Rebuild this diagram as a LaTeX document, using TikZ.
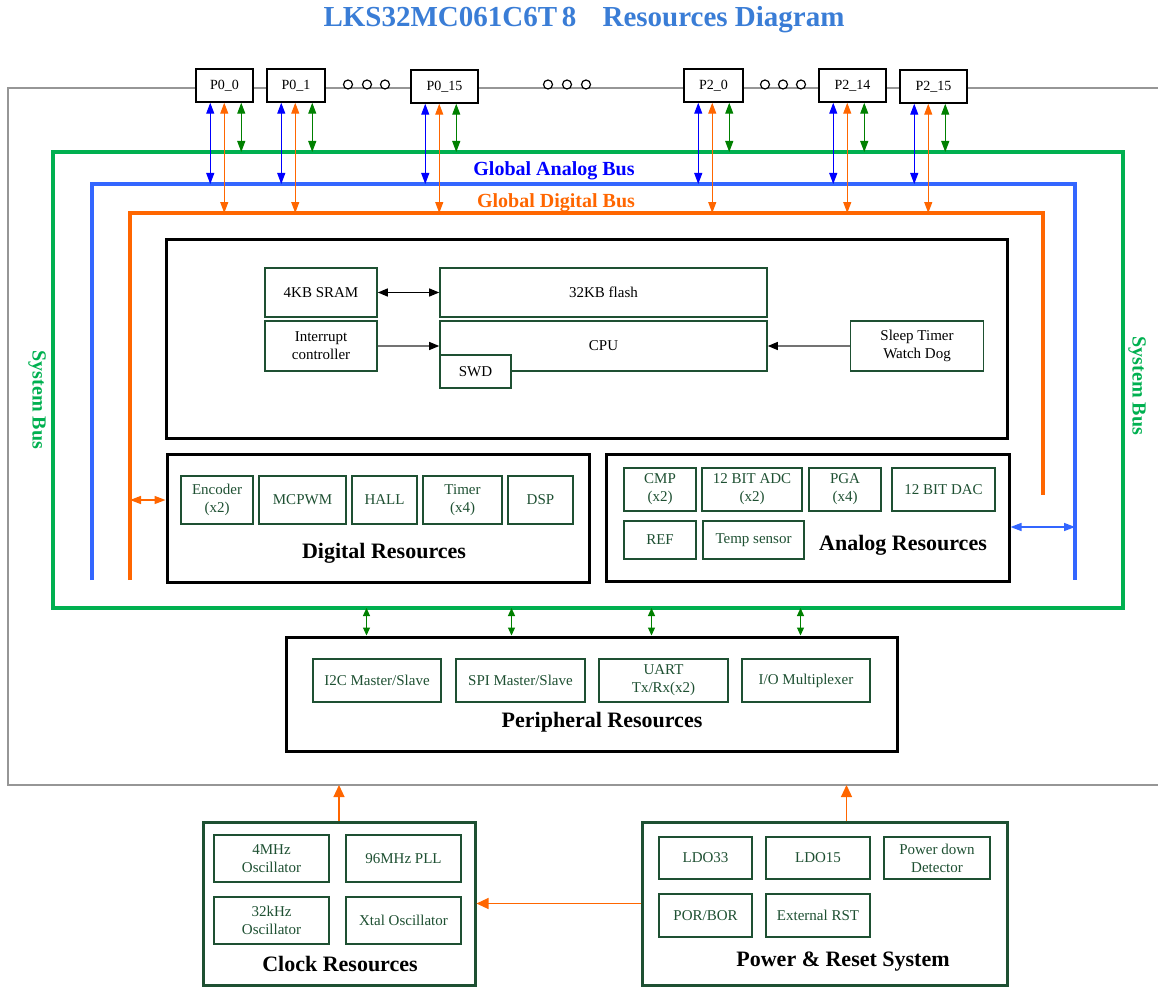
\documentclass[tikz,border=0pt]{standalone}
\usepackage{fontspec}
\setmainfont{Liberation Serif}
\usetikzlibrary{arrows.meta,calc}

\definecolor{busgreen}{RGB}{0,176,80}
\definecolor{busblue}{RGB}{51,102,255}
\definecolor{busorange}{RGB}{255,102,0}
\definecolor{pinblue}{RGB}{0,0,255}
\definecolor{pingreen}{RGB}{0,128,0}
\definecolor{titleblue}{RGB}{58,125,214}
\definecolor{boxgreen}{RGB}{30,80,50}
\definecolor{framegray}{RGB}{150,150,150}

\newcommand{\boxfont}{\fontsize{15}{18}\selectfont}
\newcommand{\pinfont}{\fontsize{14}{16}\selectfont}
\newcommand{\seclabfont}{\fontsize{22}{26}\selectfont\bfseries}
\newcommand{\busfont}{\fontsize{20}{24}\selectfont\bfseries}

\tikzset{
	pinbox/.style={draw, line width=1.5pt, fill=white, minimum height=33pt, font=\pinfont},
	ibox/.style={draw=boxgreen, line width=1.6pt, fill=white, align=center, text=boxgreen, font=\boxfont},
	cbox/.style={ibox, text=black},
	secbox/.style={draw, line width=3pt},
	grpbox/.style={draw=boxgreen, line width=3pt},
	seclabel/.style={font=\seclabfont},
	pinarr/.style={line width=1.2pt, {Triangle[width=8pt,length=11pt]}-{Triangle[width=8pt,length=11pt]}},
	perarr/.style={pingreen, line width=1.2pt, {Triangle[width=7pt,length=8pt]}-{Triangle[width=7pt,length=8pt]}},
	blkarr/.style={line width=1.2pt, {Triangle[width=8pt,length=10pt]}-{Triangle[width=8pt,length=10pt]}},
	grayarr/.style={draw=black!55, line width=1.2pt, -{Triangle[width=8pt,length=10pt,color=black]}},
	busarr/.style={line width=1.5pt, {Triangle[width=8pt,length=11pt]}-{Triangle[width=8pt,length=11pt]}},
	uparr/.style={busorange, line width=1.2pt, -{Triangle[width=11pt,length=12pt]}}
}

\begin{document}
\begin{tikzpicture}[x=1pt,y=-1pt]
	\useasboundingbox (0,0) rectangle (1158,987);
	
	%%%%% TITLE %%%%%
	\node[font=\fontsize{29}{32}\selectfont\bfseries, text=titleblue] (title) at (584,20) {LKS32MC061C6T\,8\hspace{0.9em}Resources Diagram};
	
	%%%%% FRAME AND BUSES %%%%%
	\draw[framegray, line width=1.5pt] (1158,88) -- (8,88) -- (8,785) -- (1158,785);
	\coordinate (fbot) at (0,785);
	\coordinate (gbus) at (0,152);
	\coordinate (abus) at (0,184);
	\coordinate (dbus) at (0,213);
	\coordinate (sbot) at (0,608);
	\coordinate (dleft) at (130,0);
	\coordinate (aright) at (1075,0);
	
	\draw[busgreen, line width=3.5pt] (53,152) rectangle (1123,608);
	\draw[busblue, line width=3.5pt] (92,580) -- (92,184) -- (1075,184) -- (1075,580);
	\draw[busorange, line width=3.5pt] (130,580) -- (130,213) -- (1043,213) -- (1043,495);
	
	\node[font=\busfont, text=pinblue] (alabel) at (554,171) {Global Analog Bus};
	\node[font=\busfont, text=busorange] (dlabel) at (556,203) {Global Digital Bus};
	\node[font=\busfont, text=busgreen, rotate=-90] (sysl) at (37,400) {System Bus};
	\node[font=\busfont, text=busgreen, rotate=-90] (sysr) at (1137,386) {System Bus};
	
	%%%%% PINS %%%%%
	\node[pinbox, minimum width=57pt] (p00) at (224.5,85.5) {P0\_0};
	\node[pinbox, minimum width=58pt] (p01) at (296,85.5) {P0\_1};
	\node[pinbox, minimum width=67pt] (p015) at (444.5,86.5) {P0\_15};
	\node[pinbox, minimum width=59pt] (p20) at (713.5,85.5) {P2\_0};
	\node[pinbox, minimum width=67pt] (p214) at (852.5,85.5) {P2\_14};
	\node[pinbox, minimum width=67pt] (p215) at (933.5,86.5) {P2\_15};
	
	\foreach \x in {348,367,385,548,567,586,765,783,801}
		\draw[line width=1.2pt, fill=white] (\x,84.5) circle (4.5);
	
	\foreach \p in {p00,p01,p015,p20,p214,p215}{
		\coordinate (\p-a) at ([xshift=15pt]\p.south west);
		\coordinate (\p-d) at ([xshift=29pt]\p.south west);
		\coordinate (\p-s) at ([xshift=46pt]\p.south west);
		\draw[pinarr, pinblue] (\p-a) -- (\p-a |- abus);
		\draw[pinarr, busorange] (\p-d) -- (\p-d |- dbus);
		\draw[pinarr, pingreen] (\p-s) -- (\p-s |- gbus);
	}
	
	%%%%% CORE %%%%%
	\node[secbox, minimum width=841pt, minimum height=199pt] (core) at (586.5,338.5) {};
	\node[cbox, minimum width=112pt, minimum height=49pt] (sram) at (321,292.5) {4KB SRAM};
	\node[cbox, minimum width=327pt, minimum height=49pt] (flash) at (603.5,292.5) {32KB flash};
	\node[cbox, minimum width=112pt, minimum height=50pt] (intc) at (321,346) {Interrupt\\controller};
	\node[cbox, minimum width=327pt, minimum height=50pt] (cpu) at (603.5,346) {CPU};
	\node[cbox, minimum width=71pt, minimum height=33pt] (swd) at (475.5,371.5) {SWD};
	\node[cbox, minimum width=133pt, minimum height=50pt] (sleep) at (917,346) {Sleep Timer\\Watch Dog};
	
	\draw[blkarr] (sram) -- (flash);
	\draw[grayarr] (intc) -- (cpu);
	\draw[grayarr] (sleep) -- (cpu);
	
	%%%%% DIGITAL %%%%%
	\node[secbox, minimum width=422pt, minimum height=128pt] (dig) at (378,518) {};
	\node[ibox, minimum width=72pt, minimum height=48pt] (enc) at (217,500) {Encoder\\(x2)};
	\node[ibox, minimum width=87pt, minimum height=48pt] (mcpwm) at (302.5,500) {MCPWM};
	\node[ibox, minimum width=65pt, minimum height=48pt] (hall) at (384.5,500) {HALL};
	\node[ibox, minimum width=79pt, minimum height=48pt] (timer) at (462.5,500) {Timer\\(x4)};
	\node[ibox, minimum width=65pt, minimum height=48pt] (dsp) at (540.5,500) {DSP};
	\node[seclabel] (diglabel) at (384,553) {Digital Resources};
	
	\coordinate (digin) at ([yshift=18pt]dig.west);
	\draw[busarr, busorange] (digin -| dleft) -- (digin);
	
	%%%%% ANALOG %%%%%
	\node[secbox, minimum width=403pt, minimum height=127pt] (ana) at (807.5,518) {};
	\node[ibox, minimum width=72pt, minimum height=43pt] (cmp) at (660,489.5) {CMP\\(x2)};
	\node[ibox, minimum width=100pt, minimum height=43pt] (adc) at (752,489.5) {12 BIT ADC\\(x2)};
	\node[ibox, minimum width=72pt, minimum height=43pt] (pga) at (845,489.5) {PGA\\(x4)};
	\node[ibox, minimum width=103pt, minimum height=43pt] (dac) at (943.5,489.5) {12 BIT DAC};
	\node[ibox, minimum width=72pt, minimum height=38pt] (ref) at (660,540) {REF};
	\node[ibox, minimum width=101pt, minimum height=38pt] (temp) at (753.5,540) {Temp sensor};
	\node[seclabel] (analabel) at (903,545) {Analog Resources};
	
	\coordinate (anaout) at ([yshift=-9pt]ana.east);
	\draw[busarr, busblue] (anaout) -- (anaout -| aright);
	
	%%%%% PERIPHERAL %%%%%
	\node[secbox, minimum width=611pt, minimum height=114pt] (per) at (591.5,694) {};
	\node[ibox, minimum width=128pt, minimum height=43pt] (i2c) at (377,680.5) {I2C Master/Slave};
	\node[ibox, minimum width=129pt, minimum height=43pt] (spi) at (520.5,680.5) {SPI Master/Slave};
	\node[ibox, minimum width=129pt, minimum height=43pt] (uart) at (663.5,680.5) {UART\\Tx/Rx(x2)};
	\node[ibox, minimum width=128pt, minimum height=43pt] (iomux) at (806,680.5) {I/O Multiplexer};
	\node[seclabel] (perlabel) at (602,722) {Peripheral Resources};
	
	\foreach \dx [count=\i] in {82,227,367,516}{
		\coordinate (per-\i) at ([xshift=\dx pt]per.north west);
		\draw[perarr] (per-\i |- sbot) -- (per-\i);
	}
	
	%%%%% CLOCK %%%%%
	\node[grpbox, minimum width=272pt, minimum height=163pt] (clk) at (339,903.5) {};
	\node[ibox, minimum width=115pt, minimum height=47pt] (osc4) at (271.5,858.5) {4MHz\\Oscillator};
	\node[ibox, minimum width=115pt, minimum height=47pt] (pll) at (403.5,858.5) {96MHz PLL};
	\node[ibox, minimum width=115pt, minimum height=47pt] (osc32) at (271.5,920.5) {32kHz\\Oscillator};
	\node[ibox, minimum width=115pt, minimum height=47pt] (xtal) at (403.5,920.5) {Xtal Oscillator};
	\node[seclabel] (clklabel) at (340,964) {Clock Resources};
	
	%%%%% POWER %%%%%
	\node[grpbox, minimum width=365pt, minimum height=163pt] (pwr) at (824.5,903.5) {};
	\node[ibox, minimum width=93pt, minimum height=42pt] (ldo33) at (705.5,858) {LDO33};
	\node[ibox, minimum width=104pt, minimum height=42pt] (ldo15) at (818,858) {LDO15};
	\node[ibox, minimum width=106pt, minimum height=42pt] (pdd) at (937,858) {Power down\\Detector};
	\node[ibox, minimum width=93pt, minimum height=43pt] (porbor) at (705.5,915.5) {POR/BOR};
	\node[ibox, minimum width=104pt, minimum height=43pt] (extrst) at (818,915.5) {External RST};
	\node[seclabel] (pwrlabel) at (843,962) {Power \& Reset System};
	
	\draw[uparr] (clk.north) -- (clk.north |- fbot);
	\coordinate (pwr-up) at ([xshift=22pt]pwr.north);
	\draw[uparr] (pwr-up) -- (pwr-up |- fbot);
	\draw[uparr] (pwr.west) -- (pwr.west -| clk.east);
	
\end{tikzpicture}
\end{document}
